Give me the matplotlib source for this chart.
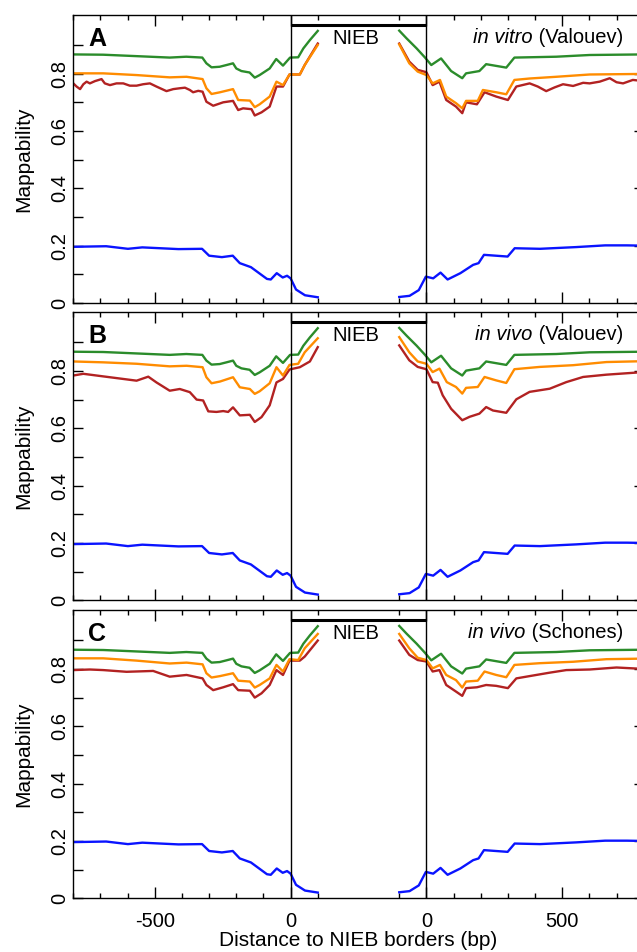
import matplotlib
matplotlib.use("Agg")
import matplotlib.pyplot as plt
from matplotlib.ticker import FixedLocator

plt.rcParams['font.family'] = ['Liberation Sans', 'DejaVu Sans']

GAP = 500  # axis width given to the NIEB interior (between the two borders)

# ---- profiles shared by all panels -------------------------------------
green_left_bp = [-800, -690, -567, -445, -384, -325, -310, -291, -261, -236, -212, -200,
                 -181, -151, -132, -114, -77, -53, -28, -2, 28, 47, 71, 100]
green_left = [0.867, 0.866, 0.861, 0.856, 0.859, 0.856, 0.836, 0.822, 0.824, 0.830, 0.836, 0.818,
              0.809, 0.804, 0.786, 0.795, 0.818, 0.851, 0.828, 0.856, 0.857, 0.888, 0.917, 0.949]
green_right_bp = [-100, -73, -36, -6, 18, 54, 91, 132, 146, 195, 220, 257, 294, 324, 478, 601, 800]
green_right = [0.950, 0.923, 0.888, 0.857, 0.830, 0.853, 0.809, 0.784, 0.801, 0.809, 0.833, 0.827,
               0.821, 0.856, 0.859, 0.865, 0.867]

blue_left_bp = [-800, -679, -599, -546, -413, -326, -300, -253, -213, -187, -146, -87, -73,
                -51, -29, -13, 0, 20, 53, 100]
blue_left = [0.196, 0.198, 0.189, 0.194, 0.188, 0.189, 0.165, 0.160, 0.165, 0.139, 0.125, 0.084,
             0.082, 0.104, 0.089, 0.095, 0.086, 0.047, 0.027, 0.020]
blue_right_bp = [-100, -62, -28, -2, 25, 52, 78, 125, 172, 192, 212, 299, 325, 418, 551, 658, 738, 800]
blue_right = [0.021, 0.025, 0.045, 0.092, 0.086, 0.106, 0.082, 0.104, 0.133, 0.139, 0.168, 0.162,
              0.191, 0.189, 0.195, 0.201, 0.201, 0.200]

# ---- panel A: in vitro (Valouev) ----------------------------------------
a_orange_left_bp = [-800, -690, -567, -445, -383, -324, -310, -291, -260, -212, -193, -150,
                    -132, -114, -77, -52, -28, -4, 34, 52, 100]
a_orange_left = [0.801, 0.801, 0.795, 0.787, 0.789, 0.781, 0.749, 0.729, 0.735, 0.746, 0.708, 0.706,
                 0.683, 0.693, 0.720, 0.772, 0.760, 0.797, 0.797, 0.830, 0.900]
a_red_left_bp = [-800, -788, -775, -763, -751, -739, -720, -696, -684, -665, -641, -616, -592,
                 -567, -543, -518, -494, -457, -432, -408, -389, -371, -359, -340, -324, -310,
                 -285, -248, -212, -193, -175, -144, -132, -107, -77, -52, -28, -4, 34, 52, 100]
a_red_left = [0.766, 0.755, 0.746, 0.763, 0.772, 0.766, 0.774, 0.781, 0.766, 0.760, 0.766, 0.766,
              0.758, 0.758, 0.763, 0.766, 0.755, 0.739, 0.746, 0.749, 0.751, 0.743, 0.735, 0.740,
              0.737, 0.702, 0.688, 0.700, 0.705, 0.673, 0.679, 0.676, 0.654, 0.665, 0.685, 0.755,
              0.755, 0.797, 0.797, 0.830, 0.905]
a_orange_right_bp = [-100, -63, -32, 0, 23, 50, 73, 109, 132, 146, 189, 208, 257, 294, 324, 380,
                     478, 601, 800]
a_orange_right = [0.902, 0.836, 0.807, 0.795, 0.766, 0.778, 0.720, 0.697, 0.679, 0.705, 0.705, 0.743,
                  0.735, 0.728, 0.778, 0.783, 0.789, 0.797, 0.799]
a_red_right_bp = [-100, -63, -32, 0, 23, 48, 73, 109, 132, 146, 186, 214, 257, 300, 331, 380,
                  410, 441, 472, 503, 540, 577, 601, 638, 675, 700, 724, 760, 800]
a_red_right = [0.905, 0.842, 0.813, 0.805, 0.760, 0.772, 0.708, 0.685, 0.662, 0.700, 0.693, 0.735,
               0.720, 0.708, 0.755, 0.766, 0.755, 0.739, 0.752, 0.763, 0.757, 0.768, 0.766, 0.772,
               0.784, 0.770, 0.766, 0.778, 0.774]

# ---- panel B: in vivo (Valouev) -----------------------------------------
b_orange_left_bp = [-800, -690, -567, -445, -383, -324, -310, -291, -260, -212, -187, -150,
                    -132, -114, -77, -52, -28, -4, 28, 52, 100]
b_orange_left = [0.833, 0.830, 0.825, 0.816, 0.818, 0.813, 0.778, 0.757, 0.763, 0.778, 0.743, 0.737,
                 0.720, 0.729, 0.757, 0.813, 0.784, 0.821, 0.825, 0.865, 0.914]
b_red_left_bp = [-800, -763, -690, -616, -567, -524, -494, -445, -408, -371, -346, -322, -303,
                 -273, -248, -230, -212, -187, -150, -132, -107, -77, -52, -28, -4, 34, 71, 100]
b_red_left = [0.784, 0.790, 0.781, 0.772, 0.766, 0.780, 0.760, 0.731, 0.737, 0.726, 0.700, 0.697,
              0.659, 0.657, 0.660, 0.657, 0.673, 0.645, 0.647, 0.622, 0.639, 0.680, 0.760, 0.772,
              0.805, 0.813, 0.833, 0.883]
b_orange_right_bp = [-100, -63, -32, 0, 23, 48, 75, 109, 132, 146, 189, 214, 257, 294, 324, 417,
                     540, 663, 800]
b_orange_right = [0.918, 0.865, 0.833, 0.825, 0.796, 0.808, 0.761, 0.744, 0.721, 0.741, 0.744, 0.779,
                  0.767, 0.758, 0.806, 0.814, 0.820, 0.831, 0.834]
b_red_right_bp = [-100, -63, -32, 0, 23, 42, 60, 91, 132, 159, 195, 220, 245, 294, 331, 380,
                  454, 515, 577, 663, 800]
b_red_right = [0.889, 0.837, 0.814, 0.806, 0.761, 0.759, 0.715, 0.668, 0.628, 0.640, 0.651, 0.674,
               0.662, 0.654, 0.701, 0.727, 0.738, 0.761, 0.779, 0.787, 0.796]

# ---- panel C: in vivo (Schones) -----------------------------------------
c_orange_left_bp = [-800, -690, -567, -445, -383, -324, -310, -291, -260, -212, -193, -150,
                    -132, -114, -77, -52, -28, -4, 28, 52, 100]
c_orange_left = [0.837, 0.837, 0.829, 0.819, 0.822, 0.816, 0.785, 0.770, 0.775, 0.785, 0.759, 0.756,
                 0.735, 0.744, 0.767, 0.814, 0.791, 0.834, 0.831, 0.872, 0.922]
c_red_left_bp = [-800, -739, -690, -604, -506, -445, -383, -324, -310, -285, -248, -212, -193,
                 -150, -132, -107, -77, -52, -28, -4, 34, 52, 100]
c_red_left = [0.796, 0.798, 0.796, 0.790, 0.793, 0.773, 0.779, 0.767, 0.744, 0.726, 0.736, 0.747,
              0.726, 0.724, 0.700, 0.715, 0.744, 0.796, 0.779, 0.829, 0.829, 0.843, 0.899]
c_orange_right_bp = [-100, -63, -32, 0, 23, 50, 73, 109, 132, 146, 189, 214, 257, 294, 324, 417,
                     540, 663, 800]
c_orange_right = [0.922, 0.872, 0.839, 0.831, 0.802, 0.814, 0.779, 0.761, 0.735, 0.756, 0.759, 0.791,
                  0.779, 0.771, 0.814, 0.820, 0.825, 0.834, 0.836]
c_red_right_bp = [-100, -63, -32, 0, 23, 48, 73, 109, 132, 146, 186, 220, 257, 300, 331, 380,
                  454, 515, 601, 700, 800]
c_red_right = [0.899, 0.849, 0.831, 0.826, 0.791, 0.796, 0.744, 0.721, 0.706, 0.733, 0.736, 0.744,
               0.741, 0.733, 0.767, 0.775, 0.787, 0.796, 0.798, 0.805, 0.800]

panels = [
    ("A", "in vitro", " (Valouev)",
     (a_orange_left_bp, a_orange_left, a_orange_right_bp, a_orange_right),
     (a_red_left_bp, a_red_left, a_red_right_bp, a_red_right)),
    ("B", "in vivo", " (Valouev)",
     (b_orange_left_bp, b_orange_left, b_orange_right_bp, b_orange_right),
     (b_red_left_bp, b_red_left, b_red_right_bp, b_red_right)),
    ("C", "in vivo", " (Schones)",
     (c_orange_left_bp, c_orange_left, c_orange_right_bp, c_orange_right),
     (c_red_left_bp, c_red_left, c_red_right_bp, c_red_right)),
]

GREEN = "#2b8c2b"
ORANGE = "#ff8c00"
RED = "#b22222"
BLUE = "#0a14ff"

W, H = 637, 952
fig = plt.figure(figsize=(W / 100, H / 100), dpi=100)

ax_left = 73.3 / W
ax_width = 570.4 / W
ax_height = 288 / H
bottoms = [1 - 303 / H, 1 - 600.3 / H, 1 - 898.3 / H]

major_x = [-500, 0, GAP, GAP + 500]
minor_x = [-800, -700, -600, -400, -300, -200, -100, 100,
           GAP - 100, GAP + 100, GAP + 200, GAP + 300, GAP + 400,
           GAP + 600, GAP + 700, GAP + 800]


def draw_series(ax, lbp, lv, rbp, rv, color, lw=1.7):
    ax.plot(lbp, lv, color=color, lw=lw, solid_joinstyle="round")
    ax.plot([b + GAP for b in rbp], rv, color=color, lw=lw, solid_joinstyle="round")


for i, (letter, cond, source, orange, red) in enumerate(panels):
    ax = fig.add_axes([ax_left, bottoms[i], ax_width, ax_height])
    ax.set_xlim(-800, GAP + 800)
    ax.set_ylim(0, 1.0045)

    draw_series(ax, *red, RED)
    draw_series(ax, *orange, ORANGE)
    draw_series(ax, green_left_bp, green_left, green_right_bp, green_right, GREEN)
    draw_series(ax, blue_left_bp, blue_left, blue_right_bp, blue_right, BLUE)

    # NIEB borders and the NIEB bar
    ax.axvline(0, color="black", lw=1.0)
    ax.axvline(GAP, color="black", lw=1.0)
    ax.plot([0, GAP], [0.97, 0.97], color="black", lw=2.2, solid_capstyle="butt")
    ax.text(240, 0.903, "NIEB", ha="center", va="baseline", fontsize=14.5)

    # panel letter and condition
    ax.text(0.0415, 0.918, letter, transform=ax.transAxes, ha="center", va="center",
            fontsize=18, fontweight="bold")
    src = ax.text(0.9637, 0.903, source, transform=ax.transAxes, ha="right",
                  va="baseline", fontsize=14.5)
    ax.annotate(cond, xy=(0, 0.903), xycoords=(src, "axes fraction"), ha="right",
                va="baseline", fontsize=14.5, fontstyle="italic")

    # axes / ticks
    for sp in ax.spines.values():
        sp.set_linewidth(1.0)
    ax.xaxis.set_major_locator(FixedLocator(major_x))
    ax.xaxis.set_minor_locator(FixedLocator(minor_x))
    ax.set_xticklabels(["-500", "0", "0", "500"])
    ax.tick_params(axis="x", which="major", direction="in", length=8, width=1,
                   top=True, bottom=True, labelsize=14.5, pad=10,
                   labelbottom=(i == 2))
    ax.tick_params(axis="x", which="minor", direction="in", length=3.8, width=1,
                   top=True, bottom=True)

    ax.set_yticks([0, 0.2, 0.4, 0.6, 0.8], labels=["0", "0.2", "0.4", "0.6", "0.8"],
                  rotation=90, va="center")
    ax.yaxis.set_minor_locator(FixedLocator([0.1, 0.3, 0.5, 0.7, 0.9]))
    ax.tick_params(axis="y", which="major", direction="in", length=7, width=1,
                   left=True, right=True, labelsize=14.5, pad=3)
    ax.tick_params(axis="y", which="minor", direction="in", length=7, width=1,
                   left=True, right=False)

    fig.text(23.5 / W, bottoms[i] + ax_height / 2, "Mappability", rotation=90,
             ha="center", va="center", fontsize=15)

fig.text((73.3 + 570.4 / 2) / W, 1 - 940 / H, "Distance to NIEB borders (bp)",
         ha="center", va="center", fontsize=15)

fig.savefig("out.png", dpi=100)
